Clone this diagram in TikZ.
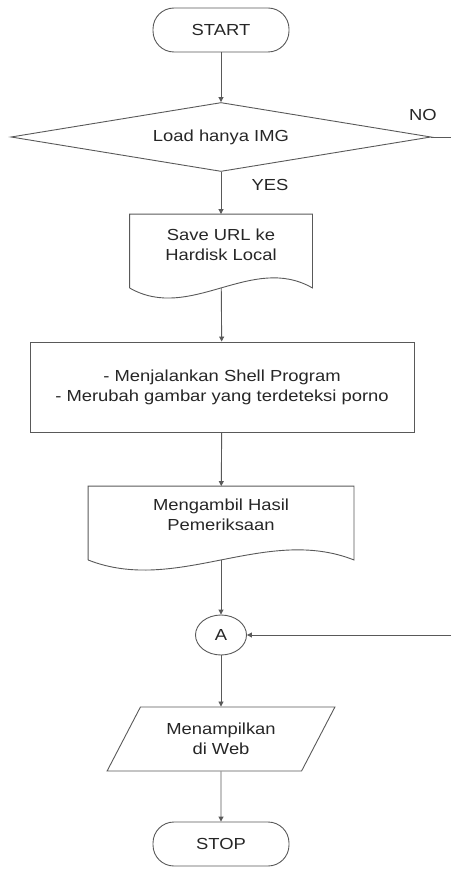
\documentclass[tikz,border=0pt]{standalone}
\usepackage{fontspec}
\setmainfont{Liberation Sans}[FakeStretch=1.15]
\usetikzlibrary{shapes.geometric,arrows.meta,calc,positioning}

\begin{document}
\begin{tikzpicture}[x=1pt,y=-1pt,->,>={Triangle[length=5pt,width=5pt]},
  line width=0.9pt,color=black!65,
  every node/.style={text=black!85,font=\fontsize{16}{20}\selectfont},
  term node/.style={rectangle,rounded corners=21pt,draw,minimum width=136pt,minimum height=44pt},
  cond node/.style={diamond,draw,aspect=6.1,inner sep=0pt,minimum width=420pt,minimum height=69pt},
  doc node/.style={rectangle,align=center,minimum height=73pt},
  proc node/.style={rectangle,draw,align=center,minimum width=384pt,minimum height=90pt},
  conn node/.style={ellipse,draw,inner sep=0pt,minimum width=51pt,minimum height=40pt},
  io node/.style={trapezium,draw,align=center,trapezium left angle=58,trapezium right angle=122,
    trapezium stretches=true,minimum width=228pt,minimum height=64pt}]

\useasboundingbox (0,0) rectangle (451,869);

\node[term node] (start) at (221,30) {START};
\node[cond node] (cond) at (221,137) {Load hanya IMG};
\node[doc node,minimum width=182pt] (save) at (221,251) {Save URL ke\\Hardisk Local\rule[-12pt]{0pt}{0pt}};
\node[proc node] (prog) at (222,387) {- Menjalankan Shell Program\\- Merubah gambar yang terdeteksi porno};
\node[doc node,minimum width=265pt] (check) at (221,523) {Mengambil Hasil\\Pemeriksaan\rule[-16pt]{0pt}{0pt}};
\node[conn node] (a) at (221,635) {A};
\node[io node] (show) at (221,739) {Menampilkan\\di Web};
\node[term node] (stop) at (221,844) {STOP};

\node (no) at (423,115) {NO};
\node (yes) at (270,185) {YES};
\coordinate (noend) at (451,137);
\coordinate (back) at (451,635);

% document shapes with wavy bottom
\foreach \d in {save,check}
  \draw[-] (\d.south west) -- (\d.north west) -- (\d.north east) -- (\d.south east)
    .. controls ($(\d.south west)!2/3!(\d.south east)+(0,-35)$)
    and ($(\d.south west)!1/3!(\d.south east)+(0,35)$) .. (\d.south west);

\path (start) edge (cond)
      (cond) edge (save)
      (save) edge (prog)
      (prog) edge (check)
      (check) edge (a)
      (back) edge (a)
      (a) edge (show)
      (show) edge (stop);
\draw[-] (cond) -- (noend);
\end{tikzpicture}
\end{document}
